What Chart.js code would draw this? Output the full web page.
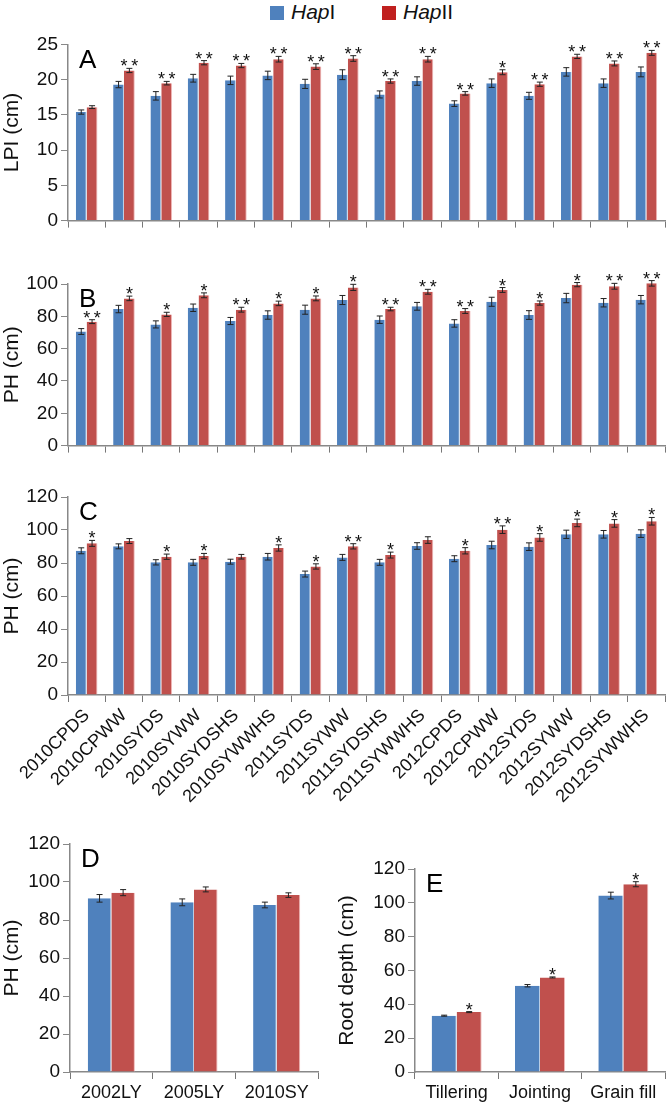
<!DOCTYPE html>
<html>
<head>
<meta charset="utf-8">
<script src="https://cdn.jsdelivr.net/npm/chart.js@4/dist/chart.umd.min.js"></script>
<style>
  body { margin: 0; background: #fff; width: 671px; height: 1109px; position: relative; overflow: hidden; }
  .box { position: absolute; }
  #legend { position: absolute; top: 0; left: 0; width: 671px; height: 28px;
    font-family: "Liberation Sans", Arial, sans-serif; font-size: 21px; color: #111; }
  .sw { position: absolute; top: 6px; width: 14px; height: 14px; }
  .lt { position: absolute; top: 0px; }
</style>
</head>
<body>
<div id="legend">
  <div class="sw" style="left:270px;background:#4f81bd"></div>
  <div class="lt" style="left:291px"><i>Hap</i>I</div>
  <div class="sw" style="left:382px;background:#c0201f"></div>
  <div class="lt" style="left:403px"><i>Hap</i>II</div>
</div>
<div class="box" style="left:0;top:30px;width:671px;height:205px"><canvas id="cA"></canvas></div>
<div class="box" style="left:0;top:260px;width:671px;height:200px"><canvas id="cB"></canvas></div>
<div class="box" style="left:0;top:470px;width:671px;height:340px"><canvas id="cC"></canvas></div>
<div class="box" style="left:0;top:820px;width:330px;height:289px"><canvas id="cD"></canvas></div>
<div class="box" style="left:335px;top:820px;width:336px;height:289px"><canvas id="cE"></canvas></div>
<script>
// categories
var sites = ['2010CPDS','2010CPWW','2010SYDS','2010SYWW','2010SYDSHS','2010SYWWHS','2011SYDS','2011SYWW',
  '2011SYDSHS','2011SYWWHS','2012CPDS','2012CPWW','2012SYDS','2012SYWW','2012SYDSHS','2012SYWWHS'];
var varieties = ['2002LY','2005LY','2010SY'];
var stages = ['Tillering','Jointing','Grain fill'];

// A - LPI
var lpiHapI     = [15.4,19.3,17.7,20.2,19.9,20.6,19.4,20.7,17.9,19.8,16.6,19.5,17.7,21.1,19.5,21.1];
var lpiHapIErr  = [0.3,0.45,0.6,0.55,0.6,0.6,0.65,0.7,0.5,0.6,0.4,0.6,0.5,0.6,0.6,0.7];
var lpiHapII    = [16.1,21.3,19.5,22.4,22.0,22.9,21.85,23.0,19.8,22.9,18.05,21.05,19.35,23.3,22.3,23.8];
var lpiHapIIErr = [0.2,0.3,0.25,0.3,0.3,0.4,0.4,0.4,0.3,0.4,0.25,0.35,0.3,0.3,0.35,0.35];
var lpiSig      = ['','**','**','**','**','**','**','**','**','**','**','*','**','**','**','**'];

// B - PH
var phBHapI     = [70.6,84.5,75.0,85.3,77.1,80.8,84.1,90.1,77.9,86.2,75.6,89.0,80.8,91.3,88.4,90.3];
var phBHapIErr  = [1.8,2.3,2.2,2.3,2.2,2.6,2.8,2.8,2.3,2.4,2.3,2.8,2.7,2.9,2.6,2.6];
var phBHapII    = [76.7,91.1,81.2,93.0,84.1,88.0,91.1,97.9,84.5,95.2,83.3,96.3,88.2,99.6,98.6,100.4];
var phBHapIIErr = [1.2,1.4,1.3,1.5,1.5,1.4,1.5,1.9,1.1,1.5,1.5,1.5,1.3,1.3,1.8,1.7];
var phBSig      = ['**','*','*','*','**','*','*','*','**','**','**','*','*','*','**','**'];

// C - PH
var phCHapI     = [87.4,90.1,80.4,80.4,80.8,83.8,73.3,83.4,80.4,90.3,82.6,90.9,89.9,97.4,97.4,97.8];
var phCHapIErr  = [1.8,1.5,1.6,1.8,1.5,2.0,1.8,1.8,1.8,2.0,1.8,2.3,2.3,2.5,2.3,2.3];
var phCHapII    = [91.9,93.3,83.8,84.2,83.8,89.1,77.9,90.1,84.8,93.9,87.4,100.2,95.5,104.3,104.0,105.3];
var phCHapIIErr = [1.8,1.5,1.6,1.6,1.4,1.9,1.6,1.6,1.8,2.0,1.9,2.3,2.3,2.3,2.3,2.3];
var phCSig      = ['*','','*','*','','*','*','**','*','','*','**','*','*','*','*'];

// D - PH of varieties
var phDHapI     = [91.4,89.3,87.9];
var phDHapIErr  = [2.0,1.8,1.5];
var phDHapII    = [94.4,96.1,93.1];
var phDHapIIErr = [1.6,1.3,1.2];
var phDSig      = ['','',''];

// E - root depth
var rootHapI     = [33.3,51.0,104.3];
var rootHapIErr  = [0.3,0.7,2.0];
var rootHapII    = [35.4,55.9,111.0];
var rootHapIIErr = [0.3,0.3,1.5];
var rootSig      = ['*','*','*'];

var FONT = '"Liberation Sans", Arial, sans-serif';
var BLUE = '#4f81bd', RED = '#c0504d';

var errPlugin = {
  id: 'errBars',
  afterDatasetsDraw: function(chart, args, opts) {
    var ctx = chart.ctx;
    var ys = chart.scales.y;
    ctx.save();
    chart.data.datasets.forEach(function(ds, i) {
      var meta = chart.getDatasetMeta(i);
      meta.data.forEach(function(el, j) {
        var v = ds.data[j], e = ds.errors[j];
        var yt = ys.getPixelForValue(v + e), yb = ys.getPixelForValue(v - e);
        ctx.strokeStyle = '#222';
        ctx.lineWidth = 1;
        ctx.beginPath();
        ctx.moveTo(el.x, yt); ctx.lineTo(el.x, yb);
        ctx.moveTo(el.x - 3, yt); ctx.lineTo(el.x + 3, yt);
        ctx.moveTo(el.x - 3, yb); ctx.lineTo(el.x + 3, yb);
        ctx.stroke();
        if (i === 1 && opts.sig[j]) {
          // significance stars above the HapII bar
          ctx.fillStyle = '#111';
          ctx.font = '18px ' + FONT;
          ctx.textAlign = 'center';
          ctx.textBaseline = 'alphabetic';
          ctx.fillText(opts.sig[j].split('').join('\u2009'), el.x, yt + 4);
        }
      });
    });
    ctx.fillStyle = '#000';
    ctx.font = '26px ' + FONT;
    ctx.textAlign = 'left';
    ctx.textBaseline = 'top';
    ctx.fillText(opts.letter, chart.chartArea.left + opts.lx, chart.chartArea.top + opts.ly);
    ctx.restore();
  }
};

function makeChart(id, cfg) {
  return new Chart(document.getElementById(id), {
    type: 'bar',
    data: {
      labels: cfg.labels,
      datasets: [
        { label: 'HapI', data: cfg.a, errors: cfg.ae, backgroundColor: BLUE, borderColor: '#b8cce4', borderWidth: {right: 1}, clip: false,
          categoryPercentage: cfg.cp, barPercentage: 1.0 },
        { label: 'HapII', data: cfg.b, errors: cfg.be, backgroundColor: RED, borderColor: '#f0b8b8', borderWidth: {right: 1}, clip: false,
          categoryPercentage: cfg.cp, barPercentage: 1.0 }
      ]
    },
    options: {
      responsive: true,
      maintainAspectRatio: false,
      animation: false,
      layout: { padding: { top: cfg.padTop, right: cfg.padRight, left: 0, bottom: 0 } },
      plugins: {
        legend: { display: false },
        tooltip: { enabled: false },
        errBars: { sig: cfg.sig, letter: cfg.letter, lx: 11, ly: 3 }
      },
      scales: {
        x: {
          grid: { drawOnChartArea: false, drawTicks: true, tickLength: 7, color: '#777', offset: true },
          border: { color: '#888', width: 1.5 },
          ticks: {
            color: '#111', font: { family: FONT, size: 18 },
            minRotation: cfg.rot || 0, maxRotation: cfg.rot || 0, autoSkip: false, padding: 3,
            callback: cfg.hideX ? function() { return ''; } : function(v) { return this.getLabelForValue(v); }
          },
          afterFit: function(s) { s.height = cfg.xh; }
        },
        y: {
          min: 0, max: cfg.max,
          grid: { drawOnChartArea: false, drawTicks: true, tickLength: 7, color: '#888' },
          border: { color: '#888', width: 1.5 },
          ticks: { stepSize: cfg.step, color: '#111', font: { family: FONT, size: 19 }, padding: 3 },
          title: { display: true, text: cfg.ytitle, color: '#111', font: { family: FONT, size: 21 }, padding: { top: 0, bottom: 2 } },
          afterFit: function(s) { s.width = cfg.yw; }
        }
      }
    },
    plugins: [errPlugin]
  });
}

makeChart('cA', { labels: sites, a: lpiHapI, ae: lpiHapIErr, b: lpiHapII, be: lpiHapIIErr, sig: lpiSig,
  letter: 'A', max: 25, step: 5, ytitle: 'LPI (cm)', yw: 68, xh: 12, padTop: 13, padRight: 6, cp: 0.58, hideX: true });
makeChart('cB', { labels: sites, a: phBHapI, ae: phBHapIErr, b: phBHapII, be: phBHapIIErr, sig: phBSig,
  letter: 'B', max: 100, step: 20, ytitle: 'PH (cm)', yw: 68, xh: 14, padTop: 24, padRight: 6, cp: 0.58, hideX: true });
makeChart('cC', { labels: sites, a: phCHapI, ae: phCHapIErr, b: phCHapII, be: phCHapIIErr, sig: phCSig,
  letter: 'C', max: 120, step: 20, ytitle: 'PH (cm)', yw: 68, xh: 115, padTop: 27, padRight: 6, cp: 0.58, rot: 45 });
makeChart('cD', { labels: varieties, a: phDHapI, ae: phDHapIErr, b: phDHapII, be: phDHapIIErr, sig: phDSig,
  letter: 'D', max: 120, step: 20, ytitle: 'PH (cm)', yw: 70, xh: 37, padTop: 24, padRight: 12, cp: 0.57 });
makeChart('cE', { labels: stages, a: rootHapI, ae: rootHapIErr, b: rootHapII, be: rootHapIIErr, sig: rootSig,
  letter: 'E', max: 120, step: 20, ytitle: 'Root depth (cm)', yw: 80, xh: 37, padTop: 49, padRight: 6, cp: 0.6 });
</script>
</body>
</html>
